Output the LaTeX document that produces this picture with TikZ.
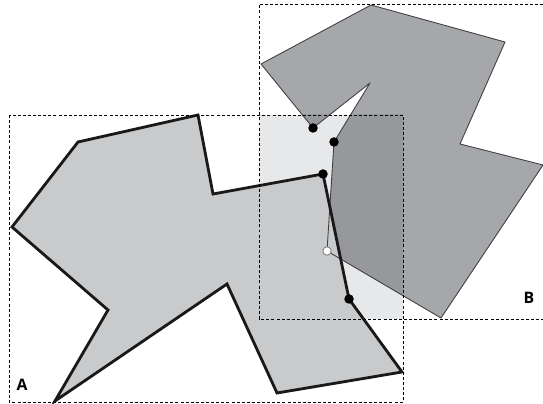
\documentclass[tikz,border=0pt]{standalone}
\usepackage{fontspec}
\setsansfont{Open Sans}
\definecolor{grisA}{RGB}{201,202,204}
\definecolor{grisB}{RGB}{166,167,170}
\definecolor{grisBA}{RGB}{151,152,155}
\definecolor{grisCaja}{RGB}{231,232,234}
\begin{document}
\begin{tikzpicture}[x=0.02cm, y=-0.02cm,
        punto/.style={circle, fill=black, inner sep=0pt, minimum size=0.19cm},
        hueco/.style={circle, draw=gray, line width=0.5pt, fill=white, inner sep=0pt, minimum size=0.17cm},
        caja/.style={dashed, dash pattern=on 1.7pt off 1.2pt, line width=0.5pt},
        etiqueta/.style={font=\sffamily\bfseries\fontsize{9}{10}\selectfont}
    ]
        \useasboundingbox (0,0) rectangle (543,404);

        % Vertices del poligono A
        \coordinate (a1) at (55,401);
        \coordinate (a2) at (108,310);
        \coordinate (a3) at (12,227);
        \coordinate (a4) at (78,142);
        \coordinate (a5) at (198,115);
        \coordinate (a6) at (213,194);
        \coordinate (a7) at (323,174);
        \coordinate (a8) at (349,299);
        \coordinate (a9) at (402,372);
        \coordinate (a10) at (277,393);
        \coordinate (a11) at (227,284);

        % Vertices del poligono B
        \coordinate (b1) at (371,5);
        \coordinate (b2) at (505,42);
        \coordinate (b3) at (460,144);
        \coordinate (b4) at (543,165);
        \coordinate (b5) at (441,318);
        \coordinate (b6) at (327,251);
        \coordinate (b7) at (334,142);
        \coordinate (b8) at (370,83);
        \coordinate (b9) at (313,128);
        \coordinate (b10) at (261,64);

        % Interseccion de las cajas
        \fill[grisCaja] (259,115) rectangle (403,319);

        % Poligono B (mas oscuro dentro de la interseccion)
        \fill[grisB] (b1) -- (b2) -- (b3) -- (b4) -- (b5) -- (b6) -- (b7) -- (b8) -- (b9) -- (b10) -- cycle;
        \begin{scope}
            \clip (259,115) rectangle (403,319);
            \fill[grisBA] (b1) -- (b2) -- (b3) -- (b4) -- (b5) -- (b6) -- (b7) -- (b8) -- (b9) -- (b10) -- cycle;
        \end{scope}

        % Poligono A
        \fill[grisA] (a1) -- (a2) -- (a3) -- (a4) -- (a5) -- (a6) -- (a7) -- (a8) -- (a9) -- (a10) -- (a11) -- cycle;
        \draw[black!75, line width=0.5pt, line join=round] (b1) -- (b2) -- (b3) -- (b4) -- (b5) -- (b6) -- (b7) -- (b8) -- (b9) -- (b10) -- cycle;
        \draw[black!90, line width=1.6pt, line join=miter] (a1) -- (a2) -- (a3) -- (a4) -- (a5) -- (a6) -- (a7) -- (a8) -- (a9) -- (a10) -- (a11) -- cycle;

        % Cajas envolventes
        \draw[caja] (9,115) rectangle (403,402);
        \draw[caja] (543,4) -- (259,4) -- (259,319) -- (543,319);

        % Puntos
        \node[punto] (p1) at (b9) {};
        \node[punto] (p2) at (b7) {};
        \node[punto] (p3) at (a7) {};
        \node[punto] (p4) at (a8) {};
        \node[hueco] (p5) at (b6) {};

        \node[etiqueta] (etA) at (22,385) {A};
        \node[etiqueta] (etB) at (529,298) {B};
    \end{tikzpicture}
\end{document}
